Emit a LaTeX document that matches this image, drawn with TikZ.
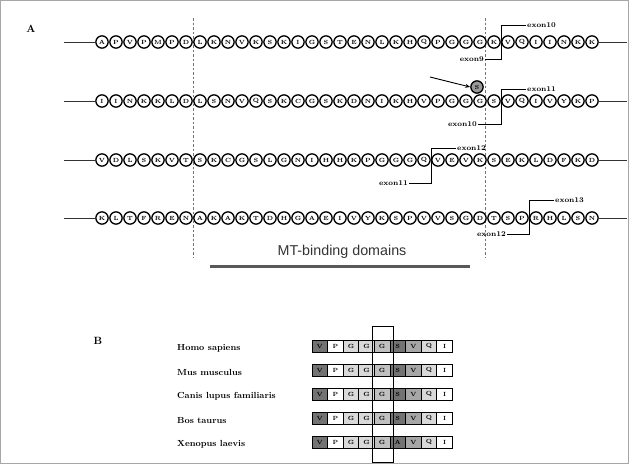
\documentclass[tikz,border=0pt]{standalone}
\usepackage{fontspec}
\newfontfamily\sansf{Liberation Sans}
\usetikzlibrary{arrows.meta}
\newcommand\aarow[3]{%
  \foreach \l [count=\i] in {#3} {\node[aa] (r#1c\i) at ({102+(\i-1)*14},#2) {\l};}}
\newcommand\exonbr[7]{% row, x, ytop, ybot, top label, bottom label, bottom len
  \coordinate (t#1) at (#2,#3);
  \coordinate (u#1) at (#2,#4);
  \node[exl, anchor=west] (tl#1) at ({#2+25},#3) {#5};
  \node[exl, anchor=east] (bl#1) at ({#2-#7},#4) {#6};
  \draw[brk] (tl#1.west) -- (t#1) -- (u#1) -- (bl#1.east);}
\begin{document}
\begin{tikzpicture}[x=1pt,y=-1pt,
  aa/.style={circle, draw=black, line width=1.35pt, fill=white, minimum size=12.3pt, inner sep=0pt, font=\bfseries\fontsize{6}{6}\selectfont},
  exl/.style={font=\bfseries\fontsize{7.3}{8}\selectfont, inner sep=1pt},
  brk/.style={line width=0.9pt},
  lead/.style={line width=1pt, draw=black!80},
  dsh/.style={draw=black!55, dash pattern=on 2.5pt off 2pt, line width=0.6pt},
  cell/.style={draw=black, line width=0.9pt, minimum width=15.6pt, minimum height=12pt, inner sep=0pt, font=\fontsize{6}{6}\selectfont\bfseries},
  spec/.style={font=\bfseries\fontsize{8.8}{9}\selectfont, anchor=west, inner sep=0pt}]
\useasboundingbox (0,0) rectangle (629,464);
\draw[black!35, line width=0.7pt] (0.5,0.5) rectangle (628.5,463.5);
\node[font=\bfseries\fontsize{10.5}{10.5}\selectfont] (lA) at (31,29) {A};
\node[font=\bfseries\fontsize{10.5}{10.5}\selectfont] (lB) at (98,341) {B};
% dashed lines
\coordinate (d1t) at (193,18); \coordinate (d1b) at (193,258);
\coordinate (d2t) at (485,18); \coordinate (d2b) at (485,258);
\draw[dsh] (d1t) -- (d1b);
\draw[dsh] (d2t) -- (d2b);
% rows
\aarow{1}{42}{A,P,V,P,M,P,D,L,K,N,V,K,S,K,I,G,S,T,E,N,L,K,H,Q,P,G,G,G,K,V,Q,I,I,N,K,K}
\aarow{2}{101}{I,I,N,K,K,L,D,L,S,N,V,Q,S,K,C,G,S,K,D,N,I,K,H,V,P,G,G,G,S,V,Q,I,V,Y,K,P}
\aarow{3}{160}{V,D,L,S,K,V,T,S,K,C,G,S,L,G,N,I,H,H,K,P,G,G,G,Q,V,E,V,K,S,E,K,L,D,F,K,D}
\aarow{4}{218}{K,L,T,F,R,E,N,A,K,A,K,T,D,H,G,A,E,I,V,Y,K,S,P,V,V,S,G,D,T,S,P,R,H,L,S,N}
\foreach \r/\y in {1/42,2/101,3/160,4/218}{
  \coordinate (L\r) at (64,\y); \coordinate (R\r) at (627,\y);
  \draw[lead] (L\r) -- (r\r c1);
  \draw[lead] (r\r c36) -- (R\r);
}
% exon brackets
\exonbr{1}{501}{25}{59}{exon10}{exon9}{16}
\exonbr{2}{501}{89}{124}{exon11}{exon10}{23}
\exonbr{3}{431}{148}{183}{exon12}{exon11}{22}
\exonbr{4}{529}{200}{234}{exon13}{exon12}{22}
% mutation
\node[aa, fill=black!40] (mut) at (477,87) {S};
\coordinate (arS) at (430,77);
\draw[-{Stealth[length=5pt,width=4pt]}, line width=0.9pt] (arS) -- (mut.west);
% MT-binding
\node[font=\sansf\fontsize{14.3}{15}\selectfont, text=black!80] (mtb) at (342,252) {MT-binding domains};
\coordinate (m1) at (210,266); \coordinate (m2) at (470,266);
\draw[line width=3pt, black!65] (m1) -- (m2);
% panel B
\node[spec] (s1) at (177,348) {Homo sapiens};
\node[spec] (s2) at (177,372) {Mus musculus};
\node[spec] (s3) at (177,396) {Canis lupus familiaris};
\node[spec] (s4) at (177,420) {Bos taurus};
\node[spec] (s5) at (177,444) {Xenopus laevis};
\foreach \r/\y/\six in {1/346/S,2/370/S,3/394/S,4/418/S,5/442/A}{
  \foreach \l/\f [count=\i] in {V/black!55,P/white,G/black!15,G/black!15,G/black!25,\six/black!55,V/black!35,Q/black!15,I/white}{
    \node[cell, fill=\f] (b\r c\i) at ({319.8+(\i-1)*15.6},\y) {\l};
  }
}
\coordinate (col1) at (372,326); \coordinate (col2) at (393,462);
\draw[line width=1pt] (col1) rectangle (col2);
\end{tikzpicture}
\end{document}
